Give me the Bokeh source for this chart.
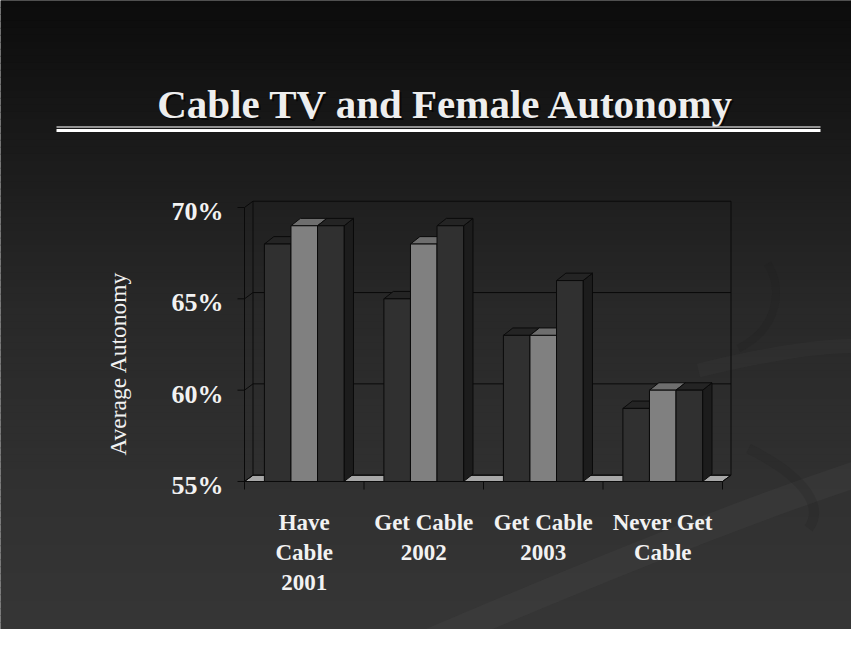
import numpy as np
from bokeh.plotting import figure
from bokeh.models import Range1d
from bokeh.core.properties import value
from bokeh.embed import file_html
from bokeh.resources import INLINE

# ---------------- data ----------------
categories = ["Have\nCable\n2001", "Get Cable\n2002", "Get Cable\n2003", "Never Get\nCable"]
series_1 = [68, 65, 63, 59]
series_2 = [69, 68, 63, 60]
series_3 = [69, 69, 66, 60]
y_ticks = [55, 60, 65, 70]
y_tick_labels = ["55%", "60%", "65%", "70%"]
title_text = "Cable TV and Female Autonomy"
y_title = "Average Autonomy"

# ---------------- layout (canvas pixels, from top-left) ----------------
W, H = 851, 629
AX_X0, AX_X1 = 244, 722        # front-plane x of first / last category boundary
AX_Y0, AX_Y1 = 481, 207        # front-plane y of y_min / y_max
Y_MIN, Y_MAX = y_ticks[0], y_ticks[-1]
NCAT = len(categories)
U = (AX_X1 - AX_X0) / NCAT     # px per category
S = (AX_Y0 - AX_Y1) / (Y_MAX - Y_MIN)  # px per percent

x_start = -AX_X0 / U
x_end = x_start + W / U
y_lo = Y_MIN - (H - AX_Y0) / S
y_hi = Y_MIN + AX_Y0 / S

WDX, WDY = 8.5 / U, 6.3 / S    # wall depth
BDX, BDY = 9.4 / U, 7.4 / S    # bar depth

p = figure(width=W, height=H, x_range=Range1d(x_start, x_end), y_range=Range1d(y_lo, y_hi),
           output_backend="svg", toolbar_location=None, min_border=0,
           x_axis_location=None, y_axis_location=None, outline_line_color=None,
           background_fill_color="#2a2a2a", border_fill_color="#2a2a2a")
p.grid.visible = False
p.extra_x_ranges = {"px": Range1d(0, W)}
p.extra_y_ranges = {"px": Range1d(H, 0)}
PX = dict(x_range_name="px", y_range_name="px")

# ---------------- background gradient ----------------
stops_y = [0, 130, 310, 490, H]
stops_c = [12, 25, 41, 49, 54]
nb = 90
edges = np.linspace(0, H, nb + 1)
mids = (edges[:-1] + edges[1:]) / 2
cols = []
for m in mids:
    r = int(np.interp(m, stops_y, stops_c))
    cols.append("#%02x%02x%02x" % (r, r, r))
p.quad(left=0, right=W, top=edges[:-1] - 0.6, bottom=edges[1:] + 0.6, fill_color=cols,
       line_color=None, **PX)

# subtle swooshes
p.bezier(x0=[420, 698, 748], y0=[645, 370, 448], x1=[867, 867, 808], y1=[470, 346, 528],
         cx0=[600, 768, 808], cy0=[568, 353, 478], cx1=[750, 828, 823], cy1=[508, 343, 508],
         line_color=["#5a5a5a", "#4a4a4a", "#1e1e1e"], line_alpha=[0.14, 0.15, 0.15],
         line_width=[26, 14, 10], **PX)
p.bezier(x0=[767], y0=[263], x1=[738], y1=[348], cx0=[783], cy0=[288], cx1=[778], cy1=[328],
         line_color="#1e1e1e", line_alpha=0.2, line_width=8, **PX)

# ---------------- title ----------------
TX, TY = 446, 103
p.text(x=[TX + 2], y=[TY + 2], text=[title_text], text_align="center", text_baseline="alphabetic",
       text_font=value("Liberation Serif"), text_font_style="bold", text_font_size="41px",
       text_color="black", text_alpha=0.6, **PX)
p.text(x=[TX], y=[TY], text=[title_text], text_align="center", text_baseline="alphabetic",
       text_font=value("Liberation Serif"), text_font_style="bold", text_font_size="41px",
       text_color="#eeeeee", **PX)
p.segment(x0=[56], y0=[126.5], x1=[820], y1=[126.5], line_color="#bdbdbd", line_width=1.5, **PX)
p.segment(x0=[56], y0=[130], x1=[820], y1=[130], line_color="#ffffff", line_width=3, **PX)

# ---------------- 3D frame ----------------
LC = "#0a0a0a"
# floor
p.patch(x=[0, NCAT, NCAT + WDX, WDX], y=[Y_MIN, Y_MIN, Y_MIN + WDY, Y_MIN + WDY],
        fill_color="#a8a8a8", line_color=LC, line_width=1)
# gridlines on side wall + back wall
for t in y_ticks:
    p.line(x=[0, WDX, NCAT + WDX], y=[t, t + WDY, t + WDY], line_color=LC, line_width=1)
# back wall verticals
p.segment(x0=[WDX, NCAT + WDX], y0=[Y_MIN + WDY] * 2, x1=[WDX, NCAT + WDX], y1=[Y_MAX + WDY] * 2,
          line_color=LC, line_width=1)
# front axis lines
p.segment(x0=[0, 0, NCAT], y0=[Y_MIN, Y_MIN, Y_MIN], x1=[0, NCAT, NCAT + WDX],
          y1=[Y_MAX, Y_MIN, Y_MIN + WDY], line_color=LC, line_width=1)
# ticks
p.segment(x0=[-7 / U] * len(y_ticks), y0=y_ticks, x1=[0] * len(y_ticks), y1=y_ticks,
          line_color=LC, line_width=1)
bx = list(range(NCAT + 1))
p.segment(x0=bx, y0=[Y_MIN] * len(bx), x1=bx, y1=[Y_MIN - 8 / S] * len(bx),
          line_color=LC, line_width=1)

# ---------------- bars ----------------
series = [series_1, series_2, series_3]
front_c = ["#303030", "#808080", "#303030"]
top_c = ["#242424", "#6e6e6e", "#242424"]
side_c = ["#1c1c1c", "#585858", "#1c1c1c"]
bw = 1 / (len(series) + 1.5)
xs, ys, fc = [], [], []
for i in range(NCAT):
    for j, ser in enumerate(series):
        v = ser[i]
        l = i + 0.5 - 1.5 * bw + j * bw
        r = l + bw
        xs.append([r, r + BDX, r + BDX, r]); ys.append([Y_MIN, Y_MIN + BDY, v + BDY, v]); fc.append(side_c[j])
        xs.append([l, r, r + BDX, l + BDX]); ys.append([v, v, v + BDY, v + BDY]); fc.append(top_c[j])
        xs.append([l, r, r, l]); ys.append([Y_MIN, Y_MIN, v, v]); fc.append(front_c[j])
p.patches(xs=xs, ys=ys, fill_color=fc, line_color=LC, line_width=1)

# ---------------- tick labels ----------------
p.text(x=[-21 / U] * len(y_ticks), y=[t - 4 / S for t in y_ticks], text=y_tick_labels,
       text_align="right", text_baseline="middle", text_font=value("Liberation Serif"),
       text_font_style="bold", text_font_size="26px", text_color="#f2f2f2")

lx, ly, lt = [], [], []
for i, c in enumerate(categories):
    for k, line in enumerate(c.split("\n")):
        lx.append(i + 0.5)
        ly.append(Y_MIN - (40.5 + 30 * k) / S)
        lt.append(line)
p.text(x=lx, y=ly, text=lt, text_align="center", text_baseline="alphabetic",
       text_font=value("Liberation Serif"), text_font_style="bold", text_font_size="23px",
       text_color="#f2f2f2")

# y-axis title
p.text(x=[117], y=[363], text=[y_title], angle=np.pi / 2, text_align="center",
       text_baseline="middle", text_font=value("Liberation Serif"), text_font_size="23.5px",
       text_color="#f2f2f2", **PX)

open("out.html", "w").write(file_html(p, INLINE))
